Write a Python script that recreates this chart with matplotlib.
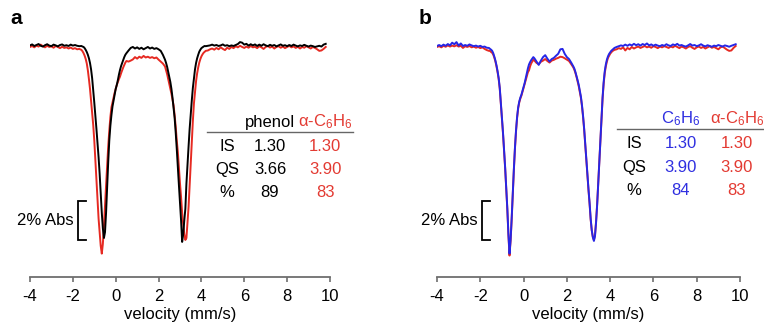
import numpy as np
import matplotlib
matplotlib.use("Agg")
import matplotlib.pyplot as plt

plt.rcParams['font.family'] = ['Liberation Sans', 'DejaVu Sans']
plt.rcParams['mathtext.fontset'] = 'custom'
plt.rcParams['mathtext.rm'] = 'Liberation Sans'
plt.rcParams['mathtext.it'] = 'Liberation Sans:italic'
plt.rcParams['axes.unicode_minus'] = False

# velocity channels (mm/s): coarse in flat regions, fine across the two lines
velocity = np.round(np.concatenate([
    np.linspace(-4.0, -1.7, 24),
    np.linspace(-1.6, 0.5, 43),
    np.linspace(0.6, 2.2, 17),
    np.linspace(2.3, 4.2, 39),
    np.linspace(4.3, 9.8, 56),
]), 2)

# % absorption
# panel a
phenol_abs = [
    0.02, -0.03, 0.05, 0.00, -0.05, 0.04, 0.08, 0.01, -0.04, 0.03, 0.06, -0.02, 0.02, 0.07, 0.00, -0.03, 0.04, 0.01, 0.05, -0.02, 0.03, 0.00, 0.04, 0.06,
    0.05, 0.08, 0.10, 0.16, 0.25, 0.36, 0.50, 0.68, 0.92, 1.25, 1.70, 2.30, 2.95, 3.60, 4.30, 5.00, 5.75, 6.60, 7.60, 8.60,
    9.40, 9.90, 9.60, 8.60, 7.30, 6.00, 4.90, 4.15, 3.60, 3.15, 2.85, 2.55, 2.25, 2.05, 1.80, 1.52, 1.28, 1.08, 0.92, 0.77, 0.62, 0.50, 0.42,
    0.28, 0.15, 0.10, 0.18, 0.12, 0.20, 0.14, 0.22, 0.16, 0.10, 0.18, 0.13, 0.20, 0.16, 0.22, 0.30, 0.50,
    0.75, 0.92, 1.12, 1.38, 1.62, 1.90, 2.25, 2.70, 3.20, 3.75, 4.50, 5.35, 6.30, 7.20, 8.10, 9.00, 10.10, 9.70, 9.00, 8.40,
    7.10, 6.10, 5.20, 4.30, 3.55, 2.85, 2.20, 1.70, 1.25, 0.92, 0.68, 0.50, 0.34, 0.24, 0.16, 0.12, 0.08, 0.05, 0.06,
    0.04, 0.02, -0.02, 0.03, 0.00, 0.05, 0.02, -0.03, 0.04, 0.01, 0.06, 0.02, 0.05, 0.00, -0.05, -0.15, -0.12, -0.02, -0.06, 0.03,
    -0.04, 0.02, -0.03, 0.05, -0.02, 0.04, -0.04, 0.02, 0.06, -0.01, 0.04, 0.00, 0.07, 0.02, -0.03, 0.04, 0.01, 0.06, 0.00, 0.05,
    -0.02, 0.03, 0.07, 0.02, 0.05, -0.01, 0.04, 0.08, 0.03, 0.06, 0.10, 0.07, 0.04, 0.08, -0.02, -0.06,
]
alpha_a_abs = [
    0.10, 0.05, 0.12, 0.03, 0.08, -0.02, 0.06, 0.12, 0.04, 0.10, 0.07, 0.14, 0.05, 0.10, 0.16, 0.09, 0.15, 0.12, 0.18, 0.13, 0.20, 0.16, 0.22, 0.20,
    0.25, 0.32, 0.42, 0.55, 0.72, 0.95, 1.30, 1.75, 2.25, 2.85, 3.45, 4.10, 4.90, 5.90, 7.00, 8.00, 8.90, 9.60, 10.30, 10.70,
    10.20, 9.30, 8.20, 7.20, 6.20, 5.20, 4.40, 3.70, 3.20, 2.95, 2.70, 2.45, 2.25, 2.05, 1.90, 1.75, 1.62, 1.45, 1.30, 1.15, 1.02, 0.90, 0.82,
    0.85, 0.80, 0.74, 0.62, 0.70, 0.60, 0.66, 0.56, 0.64, 0.60, 0.66, 0.62, 0.68, 0.64, 0.75, 0.85, 0.95,
    1.10, 1.30, 1.50, 1.75, 2.00, 2.25, 2.50, 2.80, 3.10, 3.60, 4.20, 4.90, 5.50, 6.30, 7.10, 7.80, 8.60, 9.20, 9.70, 10.00,
    9.90, 9.10, 8.30, 7.20, 6.10, 5.00, 3.90, 3.00, 2.40, 1.85, 1.45, 1.15, 0.90, 0.72, 0.58, 0.48, 0.40, 0.35, 0.30,
    0.28, 0.22, 0.18, 0.24, 0.15, 0.22, 0.12, 0.20, 0.26, 0.14, 0.20, 0.10, 0.16, 0.06, 0.12, 0.04, 0.10, 0.15, 0.08, 0.14,
    0.05, 0.12, 0.09, 0.16, 0.06, 0.12, 0.20, 0.10, 0.05, 0.13, 0.08, 0.18, 0.10, 0.06, 0.14, 0.08, 0.16, 0.10, 0.04, 0.12,
    0.07, 0.15, 0.09, 0.18, 0.10, 0.14, 0.06, 0.12, 0.18, 0.10, 0.15, 0.22, 0.30, 0.28, 0.20, 0.10,
]
# panel b
c6h6_abs = [
    0.05, 0.00, 0.06, -0.02, 0.04, -0.05, 0.02, -0.12, -0.04, -0.15, 0.03, -0.08, 0.05, 0.00, 0.04, -0.03, 0.02, 0.06, 0.03, 0.08, 0.04, 0.10, 0.08, 0.14,
    0.15, 0.20, 0.24, 0.30, 0.42, 0.60, 0.80, 1.05, 1.35, 1.70, 2.20, 2.95, 3.70, 4.50, 5.40, 6.30, 7.30, 8.40, 9.70, 10.70,
    10.00, 8.90, 7.60, 6.40, 5.30, 4.40, 3.70, 3.20, 2.90, 2.70, 2.55, 2.35, 2.15, 1.95, 1.70, 1.45, 1.20, 1.00, 0.88, 0.78, 0.70, 0.62, 0.68,
    0.85, 1.02, 0.80, 0.62, 0.52, 0.70, 0.85, 0.72, 0.66, 0.55, 0.45, 0.22, 0.20, 0.45, 0.62, 0.72, 0.90,
    1.10, 1.22, 1.40, 1.60, 1.82, 2.05, 2.35, 2.65, 3.10, 3.65, 4.30, 5.05, 5.85, 6.65, 7.40, 8.10, 8.90, 9.50, 9.85, 10.05,
    9.80, 9.10, 8.20, 7.10, 6.00, 4.80, 3.70, 2.70, 1.90, 1.35, 1.00, 0.75, 0.58, 0.46, 0.38, 0.30, 0.25, 0.20, 0.15,
    0.10, 0.06, 0.02, 0.05, -0.02, 0.04, -0.03, 0.02, -0.06, 0.01, -0.04, 0.03, -0.05, 0.00, -0.08, 0.02, -0.03, 0.04, -0.02, 0.03,
    0.06, 0.00, 0.04, -0.04, 0.02, 0.05, -0.03, 0.01, -0.06, 0.03, 0.00, 0.05, 0.08, 0.02, -0.05, 0.03, 0.00, 0.06, 0.02, -0.04,
    0.03, 0.07, 0.01, 0.05, 0.09, 0.03, 0.06, 0.00, 0.04, 0.08, 0.02, 0.05, 0.09, 0.04, 0.00, -0.04,
]
alpha_b_abs = [
    0.10, 0.06, 0.12, 0.04, 0.09, 0.02, 0.08, 0.03, 0.07, 0.01, 0.08, 0.04, 0.15, 0.06, 0.10, 0.05, 0.12, 0.08, 0.14, 0.10, 0.16, 0.12, 0.20, 0.26,
    0.30, 0.30, 0.36, 0.40, 0.50, 0.65, 0.85, 1.10, 1.40, 1.75, 2.25, 3.00, 3.75, 4.55, 5.45, 6.35, 7.35, 8.45, 9.75, 10.80,
    10.05, 8.95, 7.65, 6.45, 5.35, 4.45, 3.75, 3.25, 2.95, 2.75, 2.60, 2.40, 2.22, 2.02, 1.80, 1.58, 1.40, 1.30, 1.10, 0.95, 0.85, 0.75, 0.80,
    0.92, 0.98, 0.86, 0.80, 0.72, 0.82, 0.90, 0.80, 0.76, 0.70, 0.66, 0.60, 0.62, 0.68, 0.75, 0.82, 0.98,
    1.15, 1.28, 1.45, 1.65, 1.88, 2.12, 2.42, 2.72, 3.15, 3.70, 4.35, 5.10, 5.90, 6.70, 7.45, 8.15, 8.95, 9.50, 9.85, 10.00,
    9.75, 9.05, 8.15, 7.05, 5.95, 4.75, 3.70, 2.75, 2.00, 1.45, 1.10, 0.85, 0.66, 0.55, 0.45, 0.38, 0.32, 0.28, 0.25,
    0.22, 0.16, 0.20, 0.12, 0.28, 0.15, 0.22, 0.10, 0.18, 0.12, 0.08, 0.15, 0.10, 0.05, 0.12, 0.08, 0.14, 0.06, 0.10, 0.16,
    0.08, 0.12, 0.06, 0.10, 0.15, 0.08, 0.12, 0.04, 0.10, 0.16, 0.08, 0.12, 0.18, 0.10, 0.06, 0.14, 0.20, 0.12, 0.08, 0.15,
    0.10, 0.18, 0.12, 0.06, 0.14, 0.10, 0.16, 0.22, 0.12, 0.08, 0.16, 0.24, 0.30, 0.28, 0.15, 0.05,
]

xticks = [-4, -2, 0, 2, 4, 6, 8, 10]
row_labels = ["IS", "QS", "%"]
phenol_params = ["1.30", "3.66", "89"]
alpha_params = ["1.30", "3.90", "83"]
c6h6_params = ["1.30", "3.90", "84"]

RED = "#e62a22"
BLUE = "#2626e6"
BLACK = "#000000"
RED_T = "#e33a32"
BLUE_T = "#2f2fe0"

W, H = 764, 322
fig = plt.figure(figsize=(W / 100, H / 100), dpi=100)

FS = 12


def make_axes(left_px, width_px):
    ax = fig.add_axes([left_px / W, 45 / H, width_px / W, 247 / H])
    ax.set_xlim(-4, 10)
    ax.set_ylim(-11.9, 0.77)
    for s in ("top", "right", "left"):
        ax.spines[s].set_visible(False)
    ax.spines["bottom"].set_color("#6e6e6e")
    ax.spines["bottom"].set_linewidth(1.3)
    ax.set_yticks([])
    ax.set_xticks(xticks)
    ax.tick_params(axis="x", direction="out", length=3.5, width=1.2, color="#6e6e6e",
                   labelsize=FS, pad=5)
    ax.set_xlabel("velocity (mm/s)", fontsize=FS, labelpad=2)
    ax.patch.set_visible(False)
    return ax


def scale_bar(ax, x0, x1):
    ax.plot([x1, x0, x0, x1], [-8, -8, -10, -10], color="black", lw=1.3,
            clip_on=False, solid_joinstyle="miter")
    ax.text(x0 - 0.22, -9, "2% Abs", ha="right", va="center", fontsize=FS)


# ---------- panel a ----------
axa = make_axes(30, 300)
va = velocity
axa.plot(va, -np.array(alpha_a_abs), color=RED, lw=1.4, zorder=2)
axa.plot(va, -np.array(phenol_abs), color=BLACK, lw=1.4, zorder=3)
scale_bar(axa, -1.76, -1.39)
fig.text(16 / W, 1 - 18 / H, "a", fontsize=15, fontweight="bold", ha="center", va="center")

col_x = [5.19, 7.2, 9.77]
axa.text(col_x[1], -3.95, "phenol", ha="center", va="center", fontsize=FS, color=BLACK)
axa.text(col_x[2], -3.95, "\u03b1-C$_6$H$_6$", ha="center", va="center", fontsize=FS, color=RED_T)
axa.plot([4.26, 11.07], [-4.46, -4.46], color="#666666", lw=1.0, clip_on=False)
rows_y = [-5.23, -6.41, -7.59]
for lab, v1, v2, yy in zip(row_labels, phenol_params, alpha_params, rows_y):
    axa.text(col_x[0], yy, lab, ha="center", va="center", fontsize=FS)
    axa.text(col_x[1], yy, v1, ha="center", va="center", fontsize=FS, color=BLACK)
    axa.text(col_x[2], yy, v2, ha="center", va="center", fontsize=FS, color=RED_T)

# ---------- panel b ----------
axb = make_axes(437, 303)
axb.plot(va, -np.array(alpha_b_abs), color=RED, lw=1.4, zorder=2)
axb.plot(va, -np.array(c6h6_abs), color=BLUE, lw=1.4, zorder=3)
scale_bar(axb, -1.92, -1.55)
fig.text(425 / W, 1 - 18 / H, "b", fontsize=15, fontweight="bold", ha="center", va="center")

col_xb = [5.10, 7.25, 9.86]
axb.text(col_xb[1], -3.8, "C$_6$H$_6$", ha="center", va="center", fontsize=FS, color=BLUE_T)
axb.text(col_xb[2], -3.8, "\u03b1-C$_6$H$_6$", ha="center", va="center", fontsize=FS, color=RED_T,
         clip_on=False)
axb.plot([4.32, 11.2], [-4.31, -4.31], color="#666666", lw=1.0, clip_on=False)
rows_yb = [-5.03, -6.26, -7.44]
for lab, v1, v2, yy in zip(row_labels, c6h6_params, alpha_params, rows_yb):
    axb.text(col_xb[0], yy, lab, ha="center", va="center", fontsize=FS)
    axb.text(col_xb[1], yy, v1, ha="center", va="center", fontsize=FS, color=BLUE_T)
    axb.text(col_xb[2], yy, v2, ha="center", va="center", fontsize=FS, color=RED_T)

fig.savefig("out.png", dpi=100)
